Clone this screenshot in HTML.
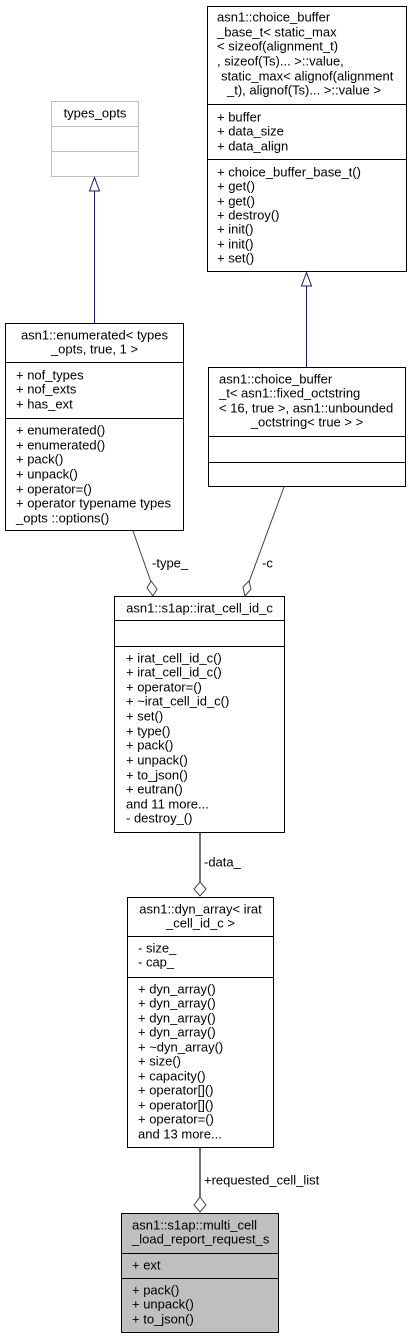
<!DOCTYPE html>
<html><head><meta charset="utf-8"><style>
html,body{margin:0;padding:0;background:#fff;}
svg{display:block;}
text{font-family:"Liberation Sans",sans-serif;font-size:13px;fill:#000;dominant-baseline:central;}
.m{text-anchor:middle;}
</style></head><body>
<svg width="412" height="1339" viewBox="0 0 412 1339" xmlns="http://www.w3.org/2000/svg">
<!-- types_opts -->
<rect x="51.5" y="101.5" width="87" height="75" fill="#fff" stroke="#bfbfbf"/>
<line x1="51.5" y1="126.5" x2="138.5" y2="126.5" stroke="#bfbfbf"/>
<line x1="51.5" y1="151.5" x2="138.5" y2="151.5" stroke="#bfbfbf"/>
<text x="95" y="113" class="m">types_opts</text>
<!-- base -->
<rect x="207.5" y="6.5" width="199" height="265" fill="#fff" stroke="#000"/>
<line x1="207.5" y1="104.5" x2="406.5" y2="104.5" stroke="#000"/>
<line x1="207.5" y1="159.5" x2="406.5" y2="159.5" stroke="#000"/>
<text x="217" y="17">asn1::choice_buffer</text>
<text x="217" y="32">_base_t&lt; static_max</text>
<text x="217" y="46">&lt; sizeof(alignment_t)</text>
<text x="217" y="61">, sizeof(Ts)... &gt;::value,</text>
<text x="221" y="76">static_max&lt; alignof(alignment</text>
<text x="227" y="90">_t), alignof(Ts)... &gt;::value &gt;</text>
<text x="217" y="117">+ buffer</text>
<text x="217" y="131">+ data_size</text>
<text x="217" y="146">+ data_align</text>
<text x="217" y="172">+ choice_buffer_base_t()</text>
<text x="217" y="186">+ get()</text>
<text x="217" y="201">+ get()</text>
<text x="217" y="215">+ destroy()</text>
<text x="217" y="229">+ init()</text>
<text x="217" y="244">+ init()</text>
<text x="217" y="258">+ set()</text>
<!-- inheritance arrows -->
<line x1="94.5" y1="191" x2="94.5" y2="323" stroke="#191970"/>
<polygon points="94.5,177.5 89.5,191 99.5,191" fill="#fff" stroke="#191970"/>
<line x1="306.5" y1="286" x2="306.5" y2="367" stroke="#191970"/>
<polygon points="306.5,272.5 301.5,286 311.5,286" fill="#fff" stroke="#191970"/>
<!-- enumerated -->
<rect x="5.5" y="323.5" width="178" height="207" fill="#fff" stroke="#000"/>
<line x1="5.5" y1="362.5" x2="183.5" y2="362.5" stroke="#000"/>
<line x1="5.5" y1="418.5" x2="183.5" y2="418.5" stroke="#000"/>
<text x="94.5" y="335" class="m">asn1::enumerated&lt; types</text>
<text x="94.5" y="349" class="m">_opts, true, 1 &gt;</text>
<text x="16" y="375">+ nof_types</text>
<text x="16" y="389">+ nof_exts</text>
<text x="16" y="404">+ has_ext</text>
<text x="16" y="430">+ enumerated()</text>
<text x="16" y="445">+ enumerated()</text>
<text x="16" y="459">+ pack()</text>
<text x="16" y="474">+ unpack()</text>
<text x="16" y="489">+ operator=()</text>
<text x="16" y="503">+ operator typename types</text>
<text x="16" y="518">_opts ::options()</text>
<!-- choice_buffer_t -->
<rect x="208.5" y="367.5" width="197" height="119" fill="#fff" stroke="#000"/>
<line x1="208.5" y1="436.5" x2="405.5" y2="436.5" stroke="#000"/>
<line x1="208.5" y1="462.5" x2="405.5" y2="462.5" stroke="#000"/>
<text x="219" y="379">asn1::choice_buffer</text>
<text x="219" y="393">_t&lt; asn1::fixed_octstring</text>
<text x="219" y="408">&lt; 16, true &gt;, asn1::unbounded</text>
<text x="307" y="422" class="m">_octstring&lt; true &gt; &gt;</text>
<!-- edges to irat -->
<line x1="133" y1="531" x2="151" y2="582" stroke="#404040"/>
<polygon points="153,596 147,588 151,581 157,589" fill="#fff" stroke="#404040"/>
<text x="152" y="563">-type_</text>
<line x1="284" y1="487" x2="249" y2="582" stroke="#404040"/>
<polygon points="245,596 243,587 249,581 251,589" fill="#fff" stroke="#404040"/>
<text x="262" y="563">-c</text>
<!-- irat -->
<rect x="114.5" y="596.5" width="170" height="236" fill="#fff" stroke="#000"/>
<line x1="114.5" y1="620.5" x2="284.5" y2="620.5" stroke="#000"/>
<line x1="114.5" y1="646.5" x2="284.5" y2="646.5" stroke="#000"/>
<text x="199.5" y="608" class="m">asn1::s1ap::irat_cell_id_c</text>
<text x="126" y="658">+ irat_cell_id_c()</text>
<text x="126" y="672">+ irat_cell_id_c()</text>
<text x="126" y="687">+ operator=()</text>
<text x="126" y="701">+ ~irat_cell_id_c()</text>
<text x="126" y="716">+ set()</text>
<text x="126" y="731">+ type()</text>
<text x="126" y="745">+ pack()</text>
<text x="126" y="760">+ unpack()</text>
<text x="126" y="775">+ to_json()</text>
<text x="126" y="789">+ eutran()</text>
<text x="126" y="804">and 11 more...</text>
<text x="126" y="818">- destroy_()</text>
<!-- data_ edge -->
<line x1="200" y1="833" x2="200" y2="882" stroke="#404040" stroke-width="1.5"/>
<polygon points="200,882 206,889 200,896 194,889" fill="#fff" stroke="#404040"/>
<text x="204" y="862">-data_</text>
<!-- dyn_array -->
<rect x="127.5" y="897.5" width="146" height="250" fill="#fff" stroke="#000"/>
<line x1="127.5" y1="936.5" x2="273.5" y2="936.5" stroke="#000"/>
<line x1="127.5" y1="977.5" x2="273.5" y2="977.5" stroke="#000"/>
<text x="200.5" y="909" class="m">asn1::dyn_array&lt; irat</text>
<text x="200.5" y="923" class="m">_cell_id_c &gt;</text>
<text x="138" y="948">- size_</text>
<text x="138" y="962">- cap_</text>
<text x="138" y="989">+ dyn_array()</text>
<text x="138" y="1003">+ dyn_array()</text>
<text x="138" y="1018">+ dyn_array()</text>
<text x="138" y="1032">+ dyn_array()</text>
<text x="138" y="1047">+ ~dyn_array()</text>
<text x="138" y="1061">+ size()</text>
<text x="138" y="1076">+ capacity()</text>
<text x="138" y="1090">+ operator[]()</text>
<text x="138" y="1105">+ operator[]()</text>
<text x="138" y="1119">+ operator=()</text>
<text x="138" y="1134">and 13 more...</text>
<!-- requested edge -->
<line x1="200" y1="1148" x2="200" y2="1197" stroke="#404040" stroke-width="1.5"/>
<polygon points="200,1197 206,1205 200,1212 194,1205" fill="#fff" stroke="#404040"/>
<text x="204" y="1180">+requested_cell_list</text>
<!-- multi -->
<rect x="121.5" y="1213.5" width="157" height="119" fill="#bfbfbf" stroke="#000"/>
<line x1="121.5" y1="1253.5" x2="278.5" y2="1253.5" stroke="#000"/>
<line x1="121.5" y1="1278.5" x2="278.5" y2="1278.5" stroke="#000"/>
<text x="132" y="1225">asn1::s1ap::multi_cell</text>
<text x="132" y="1239">_load_report_request_s</text>
<text x="132" y="1265">+ ext</text>
<text x="132" y="1290">+ pack()</text>
<text x="132" y="1304">+ unpack()</text>
<text x="132" y="1319">+ to_json()</text>
</svg>
</body></html>
